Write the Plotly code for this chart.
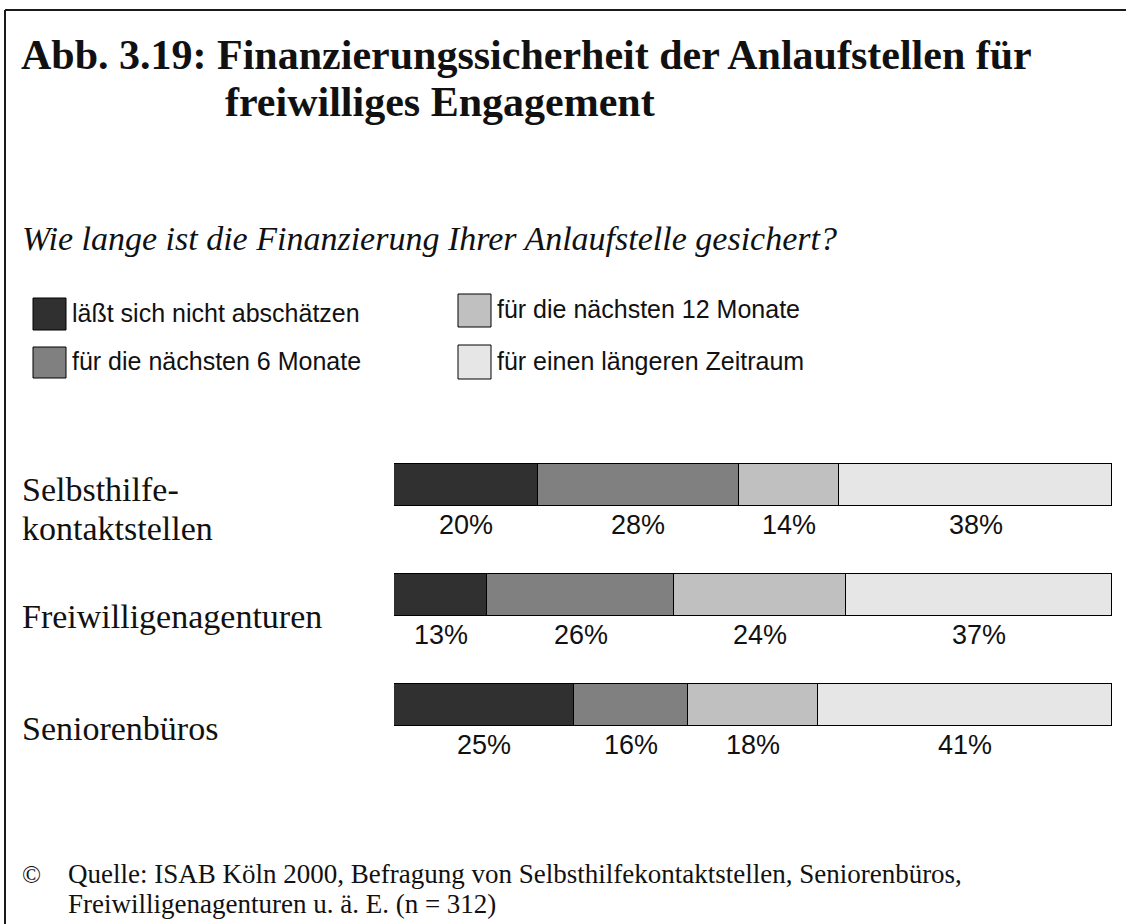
import plotly.graph_objects as go

# ---- data ----
categories = ["Selbsthilfe-<br>kontaktstellen", "Freiwilligenagenturen", "Seniorenbüros"]
series_names = ["läßt sich nicht abschätzen", "für die nächsten 6 Monate",
                "für die nächsten 12 Monate", "für einen längeren Zeitraum"]
val_nicht = [20, 13, 25]
val_6m = [28, 26, 16]
val_12m = [14, 24, 18]
val_laenger = [38, 37, 41]
series_values = [val_nicht, val_6m, val_12m, val_laenger]
colors = ["#303030", "#808080", "#c0c0c0", "#e6e6e6"]

title_text = "<b>Abb. 3.19: Finanzierungssicherheit der Anlaufstellen für</b>"
title_text2 = "<b>freiwilliges Engagement</b>"
subtitle_text = "<i>Wie lange ist die Finanzierung Ihrer Anlaufstelle gesichert?</i>"
source_line1 = "Quelle: ISAB Köln 2000, Befragung von Selbsthilfekontaktstellen, Seniorenbüros,"
source_line2 = "Freiwilligenagenturen u. ä. E. (n = 312)"

W, H = 1126, 924
def px(x):
    return x / W
def py(y):
    return 1 - y / H

SANS = "Liberation Sans, Arial, sans-serif"
SERIF = "Liberation Serif, Times New Roman, serif"
INK = "#111111"

fig = go.Figure()
ycat = [c.replace("<br>", " ") for c in categories]
for name, vals, col in zip(series_names, series_values, colors):
    fig.add_trace(go.Bar(
        y=ycat, x=vals, orientation="h", name=name,
        marker=dict(color=col, line=dict(color="#000000", width=1)),
        width=0.373, showlegend=False, hoverinfo="x+name",
    ))

annotations = []
shapes = []

# percent labels below bars
for i, cat in enumerate(ycat):
    cum = 0
    for vals in series_values:
        v = vals[i]
        annotations.append(dict(
            x=cum + v / 2, y=cat, xref="x", yref="y", text=f"{v}%",
            showarrow=False, yshift=-40, font=dict(family=SANS, size=27, color=INK),
        ))
        cum += v

# category labels (left aligned, each line placed separately)
cat_label_y = [509, 616, 728]
for cat, yy in zip(categories, cat_label_y):
    lines = cat.split("<br>")
    n = len(lines)
    for k, ln in enumerate(lines):
        ly = yy + (k - (n - 1) / 2) * 39
        annotations.append(dict(
            x=px(20), y=py(ly), xref="paper", yref="paper", text=ln, align="left",
            xanchor="left", yanchor="middle", showarrow=False,
            font=dict(family=SERIF, size=34, color=INK),
        ))

# title
annotations.append(dict(x=px(19), y=py(55), xref="paper", yref="paper", text=title_text,
                        xanchor="left", yanchor="middle", showarrow=False,
                        font=dict(family=SERIF, size=42, color=INK)))
annotations.append(dict(x=px(223), y=py(102), xref="paper", yref="paper", text=title_text2,
                        xanchor="left", yanchor="middle", showarrow=False,
                        font=dict(family=SERIF, size=42, color=INK)))
# subtitle
annotations.append(dict(x=px(20), y=py(238), xref="paper", yref="paper", text=subtitle_text,
                        xanchor="left", yanchor="middle", showarrow=False,
                        font=dict(family=SERIF, size=34, color=INK)))

# legend (manual)
legend_pos = [(33, 298, 330), (33, 347, 378), (458, 294, 327), (458, 345, 379)]
for name, col, (lx, y0, y1) in zip(series_names, colors, legend_pos):
    shapes.append(dict(type="rect", xref="paper", yref="paper",
                       x0=px(lx), x1=px(lx + 33), y0=py(y1), y1=py(y0),
                       fillcolor=col, line=dict(color="#000", width=1)))
    annotations.append(dict(x=px(lx + 37), y=py((y0 + y1) / 2 - 1), xref="paper", yref="paper",
                            text=name, xanchor="left", yanchor="middle", showarrow=False,
                            font=dict(family=SANS, size=25, color=INK)))

# source
annotations.append(dict(x=px(20), y=py(874), xref="paper", yref="paper", text="©",
                        xanchor="left", yanchor="middle", showarrow=False,
                        font=dict(family=SERIF, size=25, color=INK)))
annotations.append(dict(x=px(66), y=py(874), xref="paper", yref="paper", text=source_line1,
                        xanchor="left", yanchor="middle", showarrow=False,
                        font=dict(family=SERIF, size=27, color=INK)))
annotations.append(dict(x=px(66), y=py(904), xref="paper", yref="paper", text=source_line2,
                        xanchor="left", yanchor="middle", showarrow=False,
                        font=dict(family=SERIF, size=27, color=INK)))

# frame lines (top and left)
shapes.append(dict(type="line", xref="paper", yref="paper", x0=px(5), x1=px(5),
                   y0=0, y1=py(10), line=dict(color="#1a1a1a", width=2)))
shapes.append(dict(type="line", xref="paper", yref="paper", x0=px(5), x1=1,
                   y0=py(10), y1=py(10), line=dict(color="#1a1a1a", width=2)))

fig.update_layout(
    width=W, height=H, barmode="stack", bargap=0,
    margin=dict(l=0, r=0, t=0, b=0),
    paper_bgcolor="white", plot_bgcolor="white",
    xaxis=dict(domain=[px(394), px(1112)], range=[0, 100], visible=False, fixedrange=True),
    yaxis=dict(domain=[py(760), py(430)], range=[2.5, -0.5], visible=False,
               type="category", categoryorder="array", categoryarray=ycat, fixedrange=True),
    annotations=annotations, shapes=shapes, showlegend=False,
)

fig.write_html("out.html", config={"displayModeBar": False},
               post_script="document.body.style.margin='0';")
